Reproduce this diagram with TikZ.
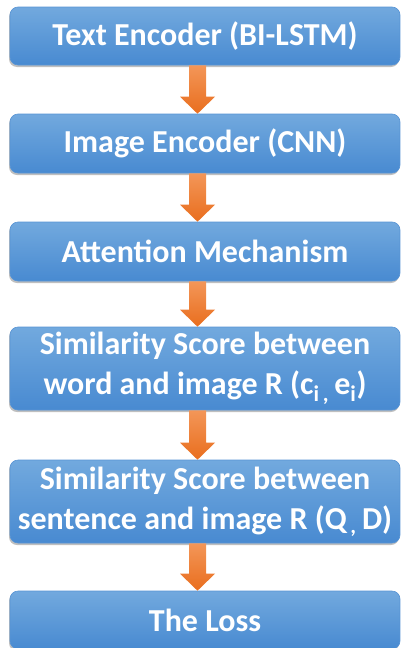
\documentclass[tikz,border=0pt]{standalone}
\usepackage{fontspec}
\setmainfont{Carlito}
\usepackage{tikz}
\usetikzlibrary{calc, shadows}
\definecolor{boxtop}{RGB}{114,169,222}
\definecolor{boxbot}{RGB}{72,138,209}
\definecolor{boxline}{RGB}{88,148,212}
\definecolor{arrtop}{RGB}{243,150,88}
\definecolor{arrbot}{RGB}{233,110,30}
\tikzset{
  stepbox/.style={rectangle, rounded corners=8pt, draw=boxline, line width=0.6pt,
              top color=boxtop, bottom color=boxbot, text=white,
              minimum width=390pt, align=center,
              font=\fontsize{32}{40}\selectfont\bfseries,
              drop shadow={shadow xshift=-1pt, shadow yshift=-2pt, opacity=0.25, fill=black}},
  flowarrow/.style={top color=arrtop, bottom color=arrbot, draw=none},
}
% block arrow from the bottom of #1 to the top of #2
\newcommand{\flowdown}[2]{%
  \path[flowarrow] let \p1=($(#1.south)+(-7.5pt,0)$), \p2=($(#2.north)+(-7.5pt,0)$) in
    (\x1-8.5pt,\y1) -- (\x1+8.5pt,\y1) -- (\x1+8.5pt,\y2+17pt) -- (\x1+17.5pt,\y2+17pt)
    -- (\x1,\y2) -- (\x1-17.5pt,\y2+17pt) -- (\x1-8.5pt,\y2+17pt) -- cycle;}
\begin{document}
\begin{tikzpicture}[x=1pt, y=-1pt]
  \useasboundingbox (0,0) rectangle (401,648);
  % pipeline steps
  \node[stepbox, minimum height=58pt] (textenc) at (205,36) {Text Encoder (BI-LSTM)};
  \node[stepbox, minimum height=59pt] (imgenc) at (205,143.5) {Image Encoder (CNN)};
  \node[stepbox, minimum height=59pt] (attn) at (205,251.5) {Attention Mechanism};
  \node[stepbox, minimum height=83pt] (wordsim) at (205,368.5)
    {Similarity Score between\\word and image R (c\textsubscript{i\,,}\,e\textsubscript{i})};
  \node[stepbox, minimum height=83pt] (sentsim) at (205,501.5)
    {Similarity Score between\\sentence and image R (Q\textsubscript{\,,}\,D)};
  \node[stepbox, minimum height=58pt] (loss) at (205,620) {The Loss};
  % arrows
  \flowdown{textenc}{imgenc}
  \flowdown{imgenc}{attn}
  \flowdown{attn}{wordsim}
  \flowdown{wordsim}{sentsim}
  \flowdown{sentsim}{loss}
\end{tikzpicture}
\end{document}
